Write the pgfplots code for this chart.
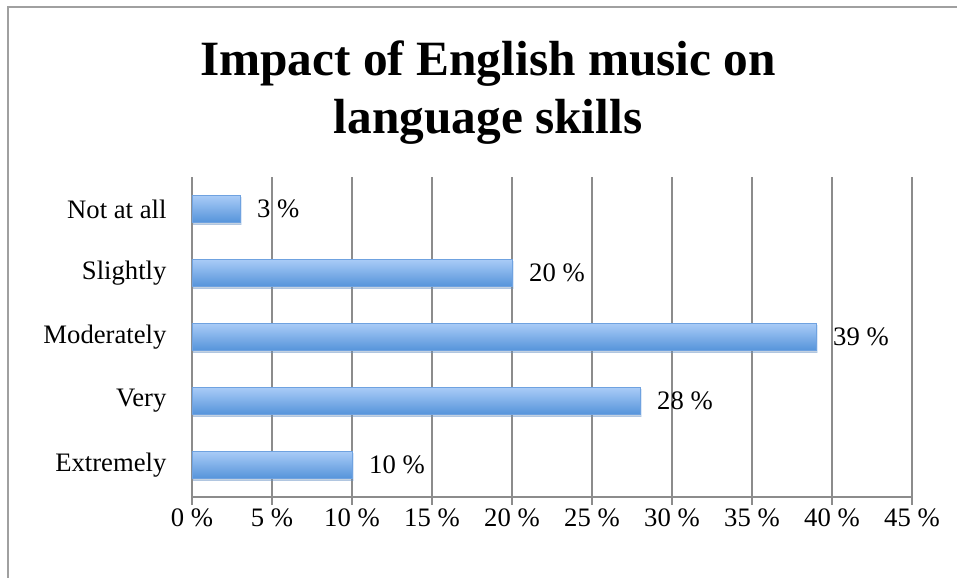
\documentclass[border=0pt]{standalone}
\usepackage{pgfplots}
\pgfplotsset{compat=1.18}
\usetikzlibrary{shadows}
\usepackage{fontspec}
\setmainfont{Liberation Serif}
\definecolor{axgray}{HTML}{8C8C8C}
\definecolor{frgray}{HTML}{A0A0A0}
\definecolor{bartop}{HTML}{A9CBF7}
\definecolor{barbot}{HTML}{5594DA}
\definecolor{baredge}{HTML}{6FA2E0}
\begin{document}
\begin{tikzpicture}
\useasboundingbox[fill=white] (0,0) rectangle (717.75pt,433.5pt);
\draw[frgray, line width=1.4pt] (6pt,0) -- (6pt,428.25pt) -- (717.75pt,428.25pt);
\node[anchor=base, inner sep=0pt, font=\fontsize{37}{44}\selectfont\bfseries] at (366pt,376.5pt) {Impact of English music on};
\node[anchor=base, inner sep=0pt, font=\fontsize{37}{44}\selectfont\bfseries] at (366pt,333pt) {language skills};
\begin{axis}[
  at={(144pt,60.75pt)}, anchor=south west,
  scale only axis, width=540pt, height=240pt,
  xbar, bar width=20.25pt, bar shift=0pt,
  xmin=0, xmax=45, ymin=-0.5, ymax=4.5,
  xtick={0,5,...,45},
  ytick={0,1,2,3,4},
  yticklabels={Extremely,Very,Moderately,Slightly,Not at all},
  minor ytick={-0.5,0.5,1.5,2.5,3.5,4.5},
  xmajorgrids, major grid style={axgray, line width=0.9pt},
  axis x line*=bottom, axis y line*=left,
  axis line style={axgray, line width=0.9pt},
  tick style={axgray, line width=0.9pt},
  tick align=outside,
  major tick length=6pt, minor tick length=5pt,
  ytick style={draw=none},
  minor tick style={axgray, line width=0.9pt},
  xticklabel={\pgfmathprintnumber{\tick}~\%},
  /pgf/number format/assume math mode=true,
  tick label style={font=\fontsize{20}{24}\selectfont, text=black},
  xticklabel style={anchor=north, inner sep=0pt, yshift=-3pt},
  yticklabel style={anchor=east, inner sep=0pt, xshift=-13pt},
  nodes near coords={\pgfmathprintnumber{\pgfplotspointmeta}~\%},
  nodes near coords align={horizontal},
  every node near coord/.append style={font=\fontsize{20}{24}\selectfont, text=black, anchor=west, inner sep=0pt, xshift=12.75pt},
  mybar/.style={draw=baredge, line width=0.3pt, top color=bartop, bottom color=barbot,
     drop shadow={opacity=0.22, shadow xshift=0.8pt, shadow yshift=-1.6pt}},
  clip=false,
]
\addplot[mybar] coordinates {(10,0)};
\addplot[mybar] coordinates {(28,1)};
\addplot[mybar] coordinates {(39,2)};
\addplot[mybar] coordinates {(20,3)};
\addplot[mybar] coordinates {(3,4)};
\end{axis}
\end{tikzpicture}
\end{document}
